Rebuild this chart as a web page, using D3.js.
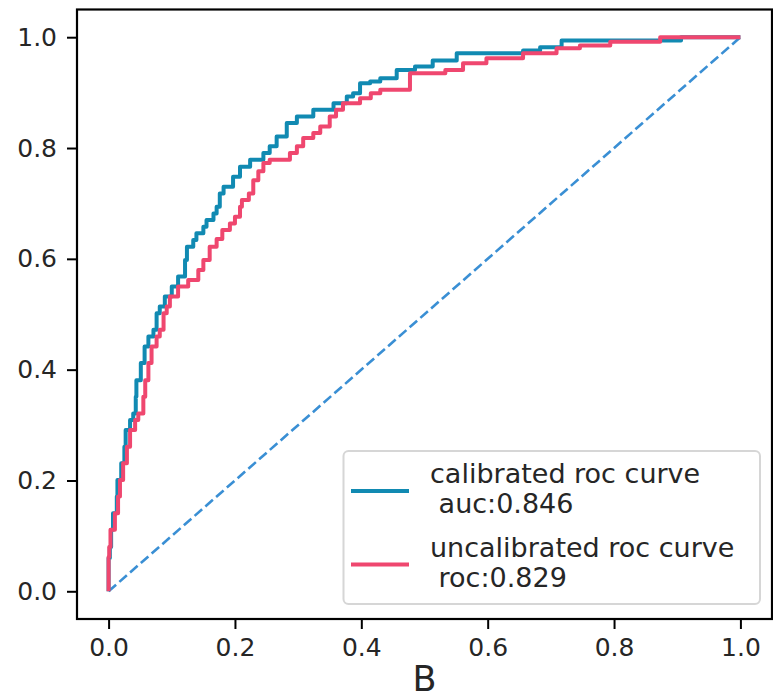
<!DOCTYPE html>
<html>
<head>
<meta charset="utf-8">
<script src="https://cdn.jsdelivr.net/npm/d3@7"></script>
<style>
  body { margin: 0; background: #fff; }
  text { font-family: "DejaVu Sans", sans-serif; fill: #262626; }
</style>
</head>
<body>
<div id="chart"></div>
<script>
// ROC points (fpr, tpr)
var calFpr = [0, 0.002, 0.004, 0.007, 0.013, 0.014, 0.020, 0.025, 0.027, 0.034, 0.039, 0.043, 0.044, 0.051, 0.057, 0.063, 0.071, 0.076, 0.081, 0.089, 0.100, 0.110, 0.121, 0.124, 0.134, 0.139, 0.150, 0.155, 0.166, 0.171, 0.176, 0.182, 0.197, 0.208, 0.224, 0.245, 0.255, 0.266, 0.282, 0.298, 0.324, 0.356, 0.377, 0.387, 0.398, 0.414, 0.430, 0.456, 0.485, 0.513, 0.551, 0.656, 0.683, 0.717, 0.906, 1];
var calTpr = [0, 0.060, 0.080, 0.111, 0.141, 0.171, 0.201, 0.231, 0.261, 0.291, 0.309, 0.321, 0.351, 0.381, 0.412, 0.442, 0.460, 0.472, 0.502, 0.514, 0.532, 0.550, 0.568, 0.598, 0.622, 0.634, 0.646, 0.658, 0.670, 0.682, 0.694, 0.718, 0.730, 0.748, 0.766, 0.779, 0.791, 0.803, 0.821, 0.845, 0.857, 0.869, 0.881, 0.893, 0.899, 0.917, 0.920, 0.926, 0.941, 0.947, 0.958, 0.971, 0.976, 0.982, 0.994, 1];

var uncalFpr = [0, 0.001, 0.003, 0.010, 0.015, 0.018, 0.023, 0.029, 0.034, 0.042, 0.047, 0.055, 0.058, 0.063, 0.068, 0.076, 0.081, 0.087, 0.092, 0.097, 0.110, 0.126, 0.142, 0.150, 0.160, 0.171, 0.180, 0.192, 0.200, 0.208, 0.211, 0.222, 0.229, 0.237, 0.245, 0.255, 0.287, 0.298, 0.308, 0.324, 0.335, 0.350, 0.360, 0.371, 0.398, 0.415, 0.430, 0.477, 0.533, 0.561, 0.598, 0.656, 0.709, 0.746, 0.794, 0.873, 1];
var uncalTpr = [0, 0.062, 0.080, 0.111, 0.141, 0.171, 0.201, 0.231, 0.261, 0.291, 0.309, 0.321, 0.351, 0.381, 0.412, 0.442, 0.460, 0.472, 0.502, 0.514, 0.532, 0.550, 0.562, 0.580, 0.598, 0.622, 0.636, 0.652, 0.664, 0.676, 0.694, 0.706, 0.718, 0.742, 0.758, 0.773, 0.779, 0.791, 0.803, 0.818, 0.827, 0.839, 0.857, 0.869, 0.881, 0.890, 0.899, 0.905, 0.935, 0.941, 0.953, 0.962, 0.971, 0.980, 0.985, 0.992, 1];

var diag = [0, 1];
var ticks = [0, 0.2, 0.4, 0.6, 0.8, 1.0];
var legendLabels = [["calibrated roc curve", " auc:0.846"], ["uncalibrated roc curve", " roc:0.829"]];
var colors = ["#118ab2", "#ef476f"];

var W = 773, H = 700;
var plotL = 77, plotR = 772, plotT = 9.5, plotB = 619;

var svg = d3.select("#chart").append("svg")
    .attr("width", W)
    .attr("height", H);

var x = d3.scaleLinear().domain([-0.05, 1.05]).range([plotL, plotR]);
var y = d3.scaleLinear().domain([-0.05, 1.05]).range([plotB, plotT]);

// axes
var xAxis = svg.append("g")
    .attr("transform", "translate(0," + plotB + ")")
    .call(d3.axisBottom(x).tickValues(ticks).tickFormat(d3.format(".1f")).tickSize(10).tickSizeOuter(0).tickPadding(9));
var yAxis = svg.append("g")
    .attr("transform", "translate(" + plotL + ",0)")
    .call(d3.axisLeft(y).tickValues(ticks).tickFormat(d3.format(".1f")).tickSize(10).tickSizeOuter(0).tickPadding(10));
[xAxis, yAxis].forEach(function (g) {
    g.select(".domain").remove();
    g.selectAll(".tick line").attr("stroke", "#000").attr("stroke-width", 2);
    g.selectAll(".tick text").attr("font-size", 25).attr("font-family", "DejaVu Sans").attr("fill", "#262626");
});

// diagonal
svg.append("line")
    .attr("x1", x(diag[0])).attr("y1", y(diag[0]))
    .attr("x2", x(diag[1])).attr("y2", y(diag[1]))
    .attr("stroke", "#3a8fd4")
    .attr("stroke-width", 2.6)
    .attr("stroke-dasharray", "10,4.3");

function series(fpr, tpr) {
    return fpr.map(function (d, i) { return [d, tpr[i]]; });
}

var line = d3.line()
    .x(function (d) { return x(d[0]); })
    .y(function (d) { return y(d[1]); })
    .curve(d3.curveStepBefore);

[series(calFpr, calTpr), series(uncalFpr, uncalTpr)].forEach(function (s, i) {
    svg.append("path")
        .attr("d", line(s))
        .attr("fill", "none")
        .attr("stroke", colors[i])
        .attr("stroke-width", 4)
        .attr("stroke-linejoin", "round");
});

// frame
svg.append("rect")
    .attr("x", plotL).attr("y", plotT)
    .attr("width", plotR - plotL).attr("height", plotB - plotT)
    .attr("fill", "none")
    .attr("stroke", "#000")
    .attr("stroke-width", 2.2);

// x label
svg.append("text")
    .attr("x", (plotL + plotR) / 2)
    .attr("y", 691)
    .attr("text-anchor", "middle")
    .attr("font-size", 35)
    .text("B");

// legend
var lg = svg.append("g");
lg.append("rect")
    .attr("x", 343.5).attr("y", 451)
    .attr("width", 416.5).attr("height", 153)
    .attr("rx", 5)
    .attr("fill", "#fff").attr("fill-opacity", 0.8)
    .attr("stroke", "#d6d6d6").attr("stroke-width", 2);

legendLabels.forEach(function (lab, i) {
    var cy = 491 + i * 73.5;
    lg.append("line")
        .attr("x1", 351).attr("x2", 409)
        .attr("y1", cy).attr("y2", cy)
        .attr("stroke", colors[i])
        .attr("stroke-width", 4);
    var t = lg.append("text")
        .attr("font-size", 27)
        .style("white-space", "pre");
    lab.forEach(function (s, j) {
        t.append("tspan")
            .attr("x", 430)
            .attr("y", cy - 8 + j * 30)
            .text(s);
    });
});
</script>
</body>
</html>
